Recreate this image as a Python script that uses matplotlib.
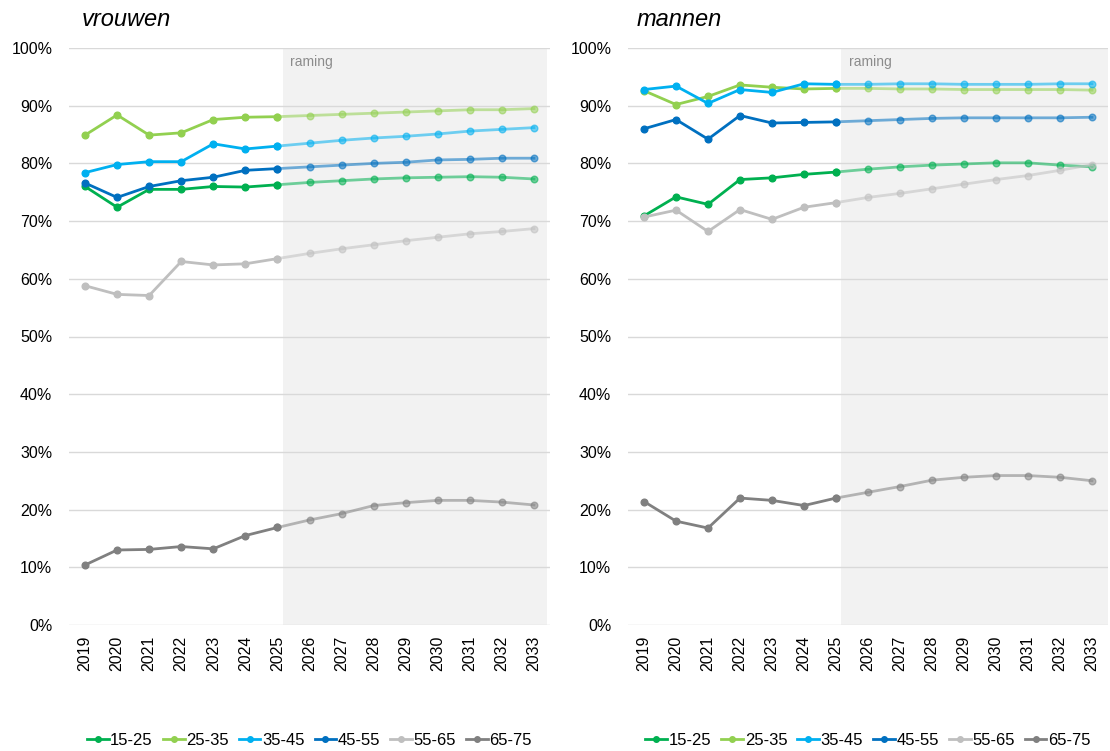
import matplotlib.pyplot as plt
from matplotlib.lines import Line2D

plt.rcParams['font.family'] = ['Liberation Sans', 'DejaVu Sans']

years = [str(y) for y in range(2019, 2034)]
groups = ["15-25", "25-35", "35-45", "45-55", "55-65", "65-75"]
colors = ["#00B050", "#92D050", "#00B0F0", "#0070C0", "#BFBFBF", "#808080"]

# percentages
vrouwen_15_25 = [76.0, 72.4, 75.5, 75.5, 76.0, 75.9, 76.3, 76.7, 77.0, 77.3, 77.5, 77.6, 77.7, 77.6, 77.3]
vrouwen_25_35 = [84.9, 88.4, 84.9, 85.3, 87.6, 88.0, 88.1, 88.3, 88.5, 88.7, 88.9, 89.1, 89.3, 89.3, 89.5]
vrouwen_35_45 = [78.4, 79.8, 80.3, 80.3, 83.4, 82.5, 83.0, 83.5, 84.0, 84.4, 84.7, 85.1, 85.6, 85.9, 86.2]
vrouwen_45_55 = [76.6, 74.1, 76.0, 77.0, 77.6, 78.8, 79.1, 79.4, 79.7, 80.0, 80.2, 80.6, 80.7, 80.9, 80.9]
vrouwen_55_65 = [58.8, 57.3, 57.1, 63.0, 62.4, 62.6, 63.5, 64.4, 65.2, 65.9, 66.6, 67.2, 67.8, 68.2, 68.7]
vrouwen_65_75 = [10.4, 13.0, 13.1, 13.6, 13.2, 15.5, 16.9, 18.2, 19.3, 20.7, 21.2, 21.6, 21.6, 21.3, 20.8]

mannen_15_25 = [70.9, 74.2, 72.9, 77.2, 77.5, 78.1, 78.5, 79.0, 79.4, 79.7, 79.9, 80.1, 80.1, 79.7, 79.4]
mannen_25_35 = [92.6, 90.2, 91.6, 93.6, 93.2, 92.9, 93.0, 93.0, 92.9, 92.9, 92.8, 92.8, 92.8, 92.8, 92.7]
mannen_35_45 = [92.8, 93.4, 90.4, 92.8, 92.3, 93.8, 93.7, 93.7, 93.8, 93.8, 93.7, 93.7, 93.7, 93.8, 93.8]
mannen_45_55 = [86.0, 87.6, 84.2, 88.3, 87.0, 87.1, 87.2, 87.4, 87.6, 87.8, 87.9, 87.9, 87.9, 87.9, 88.0]
mannen_55_65 = [70.7, 71.9, 68.2, 72.0, 70.3, 72.4, 73.2, 74.1, 74.8, 75.6, 76.4, 77.2, 77.9, 78.8, 79.8]
mannen_65_75 = [21.4, 18.0, 16.8, 22.0, 21.6, 20.7, 22.0, 23.0, 24.0, 25.1, 25.6, 25.9, 25.9, 25.6, 25.0]

vrouwen = [vrouwen_15_25, vrouwen_25_35, vrouwen_35_45, vrouwen_45_55, vrouwen_55_65, vrouwen_65_75]
mannen = [mannen_15_25, mannen_25_35, mannen_35_45, mannen_45_55, mannen_55_65, mannen_65_75]

last_real = 6  # 2025 is the last measured year

fig = plt.figure(figsize=(11.1, 7.51), dpi=100)
ax1 = fig.add_axes([69 / 1110, 1 - 625 / 751, 481 / 1110, 577 / 751])
ax2 = fig.add_axes([628 / 1110, 1 - 625 / 751, 480 / 1110, 577 / 751])


def draw(ax, data, title, title_x, shade_end):
    x = list(range(len(years)))
    ax.axvspan(last_real + 0.16, shade_end, color="#F2F2F2", zorder=0, lw=0)
    for vals, c in zip(data, colors):
        ax.plot(x[last_real:], vals[last_real:], color=c, alpha=0.55, lw=2,
                marker="o", ms=4.8, zorder=3)
        ax.plot(x[:last_real + 1], vals[:last_real + 1], color=c, lw=2,
                marker="o", ms=4.8, zorder=4)
    ax.set_xlim(-0.5, len(years) - 0.5)
    ax.set_ylim(0, 100)
    ax.set_xticks(x)
    ax.set_xticklabels(years, rotation=90, fontsize=11.5)
    ax.set_yticks(range(0, 101, 10))
    ax.set_yticklabels([f"{v}%" for v in range(0, 101, 10)], fontsize=11.5)
    ax.tick_params(length=0)
    ax.tick_params(axis="y", pad=12)
    ax.tick_params(axis="x", pad=8)
    ax.grid(axis="y", color="#D9D9D9", lw=1)
    ax.set_axisbelow(True)
    for s in ax.spines.values():
        s.set_visible(False)
    ax.text(last_real + 0.4, 97.5, "raming", color="#8C8C8C", fontsize=10, va="center")
    ax.text(title_x, 103.8, title, fontsize=17, style="italic", va="baseline",
            clip_on=False)
    handles = [Line2D([0], [0], color=c, lw=2, marker="o", ms=4) for c in colors]
    ax.legend(handles, groups, loc="center", bbox_to_anchor=(0.5, -0.2), ncol=6,
              frameon=False, fontsize=12, handlelength=1.3, handletextpad=0.1,
              columnspacing=0.6)


draw(ax1, vrouwen, "vrouwen", -0.1, len(years) - 0.6)
draw(ax2, mannen, "mannen", -0.24, len(years) - 0.5)

fig.savefig("out.png", dpi=100)
